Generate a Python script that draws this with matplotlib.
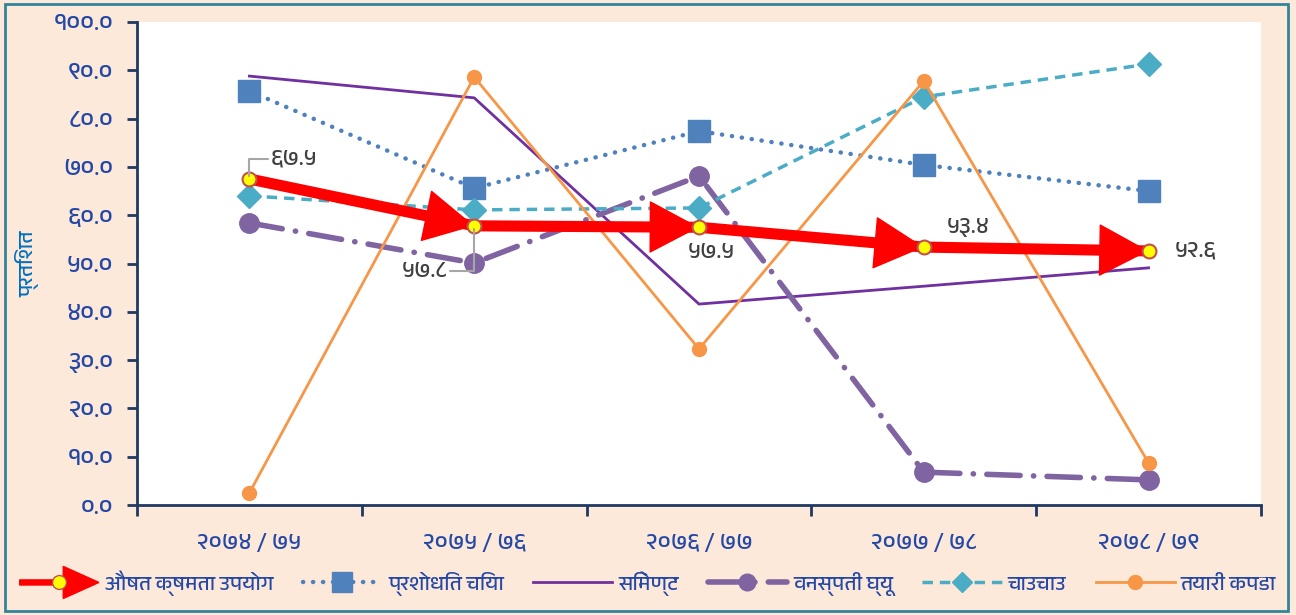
import matplotlib
matplotlib.use('Agg')
import matplotlib.pyplot as plt
import matplotlib.patches as mpatches
from matplotlib import font_manager
from matplotlib.legend_handler import HandlerPatch
from matplotlib.lines import Line2D

# Data (Nepali fiscal years)
years = ['२०७४ / ७५', '२०७५ / ७६', '२०७६ / ७७', '२०७७ / ७८', '२०७८ / ७९']
average = [67.5, 57.8, 57.5, 53.4, 52.6]
average_labels = ['६७.५', '५७.८', '५७.५', '५३.४', '५२.६']
tea = [85.7, 65.6, 77.4, 70.4, 65.0]
cement = [88.8, 84.3, 41.6, 45.3, 49.1]
ghee = [58.4, 50.1, 68.1, 6.8, 5.2]
noodles = [64.0, 61.1, 61.5, 84.5, 91.3]
garments = [2.5, 88.6, 32.3, 87.8, 8.7]
ytick_vals = [0, 10, 20, 30, 40, 50, 60, 70, 80, 90, 100]
ytick_labels = ['०.०', '१०.०', '२०.०', '३०.०', '४०.०', '५०.०', '६०.०', '७०.०', '८०.०', '९०.०', '१००.०']


def find_devanagari_font():
    # pick an installed font that has Devanagari letters and digits, avoid monospaced ones
    try:
        from fontTools.ttLib import TTFont
    except ImportError:
        return None
    found = []
    for f in font_manager.fontManager.ttflist:
        try:
            tt = TTFont(f.fname, fontNumber=0, lazy=True)
            cmap = tt.getBestCmap()
            if cmap and 0x0915 in cmap and 0x0967 in cmap:
                found.append(f.name)
        except Exception:
            continue
    if not found:
        return None

    def rank(name):
        n = name.lower()
        r = 5
        if 'devanagari' in n:
            r = 0
        elif 'noto' in n or 'lohit' in n or 'mukta' in n or 'gargi' in n:
            r = 1
        elif 'sans' in n:
            r = 2
        if 'mono' in n or 'serif' in n:
            r += 10
        return r

    found.sort(key=rank)
    return found[0]


deva = find_devanagari_font()
families = ([deva] if deva else []) + ['DejaVu Sans']
plt.rcParams['font.family'] = families

bg = '#FDE9D9'
navy = '#1F3864'
tick_blue = '#2448A6'

fig = plt.figure(figsize=(12.96, 6.15), dpi=100, facecolor=bg)
ax = fig.add_axes([137 / 1296, 1 - 505 / 615, 1124 / 1296, 483 / 615])
ax.set_facecolor('white')
fig.patches.append(mpatches.Rectangle((0.004, 0.006), 0.99, 0.988, transform=fig.transFigure,
                                      fill=False, ec='#31849B', lw=2))

x = list(range(len(years)))

ax.plot(x, tea, color='#4F81BD', lw=3.2, linestyle=(0, (0.05, 2.2)), dash_capstyle='round',
        marker='s', ms=16, zorder=3)
ax.plot(x, cement, color='#7030A0', lw=2, zorder=3)
ax.plot(x, ghee, color='#8064A2', lw=4, linestyle=(0, (6, 2.4, 0.05, 2.4)), dash_capstyle='round',
        marker='o', ms=14, zorder=3)
ax.plot(x, noodles, color='#4BACC6', lw=2.5, linestyle=(0, (3, 2)), marker='D', ms=12, zorder=3)
ax.plot(x, garments, color='#F79646', lw=2, marker='o', ms=10, zorder=3)

# average capacity utilisation: thick red arrows
ax.plot(x, average, color='red', lw=8, solid_capstyle='butt', zorder=4)
for i in range(1, len(x)):
    ax.annotate('', xy=(x[i], average[i]), xytext=(x[i - 1], average[i - 1]),
                arrowprops=dict(arrowstyle='-|>,head_length=1.7,head_width=0.9', color='red',
                                lw=1, shrinkA=0, shrinkB=0, mutation_scale=20), zorder=4)
ax.plot(x, average, linestyle='none', marker='o', ms=10, mfc='#FFFF00', mec='#C0504D', mew=1.5, zorder=5)

lbl_offsets = [(45, 20), (-50, -45), (12, -25), (45, 20), (47, 0)]
leader = [True, True, False, False, False]
for i, (lab, off) in enumerate(zip(average_labels, lbl_offsets)):
    props = None
    if leader[i]:
        props = dict(arrowstyle='-', color='#A6A6A6', lw=1.5, shrinkA=0, shrinkB=2,
                     connectionstyle='angle,angleA=0,angleB=90,rad=0')
    ax.annotate(lab, xy=(x[i], average[i]), xytext=off, textcoords='offset pixels',
                ha='center', va='center', fontsize=17, color='#404040', arrowprops=props, zorder=6)

ax.set_xlim(-0.5, 4.5)
ax.set_ylim(0, 100)
ax.set_yticks(ytick_vals)
ax.set_yticklabels(ytick_labels, color=tick_blue, fontsize=18)
ax.set_xticks(x)
ax.set_xticklabels(years, color=tick_blue, fontsize=17)
ax.set_xticks([i - 0.5 for i in range(len(years) + 1)], minor=True)
ax.tick_params(axis='x', which='major', length=0, pad=20)
ax.tick_params(axis='x', which='minor', length=8, width=2, color=navy, direction='out')
ax.tick_params(axis='y', length=7, width=2, color=navy, direction='out', pad=10)
for s in ['top', 'right']:
    ax.spines[s].set_visible(False)
for s in ['left', 'bottom']:
    ax.spines[s].set_color(navy)
    ax.spines[s].set_linewidth(2)
ax.set_ylabel('प्रतिशत', color='#0070C0', fontsize=15)
ax.yaxis.set_label_coords(-0.087, 0.5)


def make_arrow(legend, orig_handle, xdescent, ydescent, width, height, fontsize):
    return mpatches.FancyArrow(-xdescent, height / 2 - ydescent, width, 0, width=height * 0.35,
                               head_width=height * 2.2, head_length=width * 0.45,
                               length_includes_head=True, color='red')


arrow_handle = mpatches.FancyArrow(0, 0, 1, 0, color='red')
avg_marker = Line2D([], [], linestyle='none', marker='o', ms=10, mfc='#FFFF00', mec='#C0504D')
handles = [
    (arrow_handle, avg_marker),
    Line2D([], [], color='#4F81BD', lw=3.2, linestyle=(0, (0.05, 2.2)), dash_capstyle='round', marker='s', ms=14),
    Line2D([], [], color='#7030A0', lw=2),
    Line2D([], [], color='#8064A2', lw=4, linestyle=(0, (6, 2.4, 0.05, 2.4)), dash_capstyle='round', marker='o', ms=12),
    Line2D([], [], color='#4BACC6', lw=2.5, linestyle=(0, (3, 2)), marker='D', ms=10),
    Line2D([], [], color='#F79646', lw=2, marker='o', ms=10),
]
names = ['औषत क्षमता उपयोग', 'प्रशोधित चिया', 'सिमेण्ट', 'वनस्पती घ्यू', 'चाउचाउ', 'तयारी कपडा']
fig.legend(handles, names, loc='center', bbox_to_anchor=(0.5, 1 - 583 / 615), ncol=6, frameon=False,
           fontsize=15, labelcolor='#2448A6', handlelength=3.8, columnspacing=1.4, handletextpad=0.3,
           handler_map={mpatches.FancyArrow: HandlerPatch(patch_func=make_arrow)})

fig.savefig('out.png', dpi=100, facecolor=bg)
